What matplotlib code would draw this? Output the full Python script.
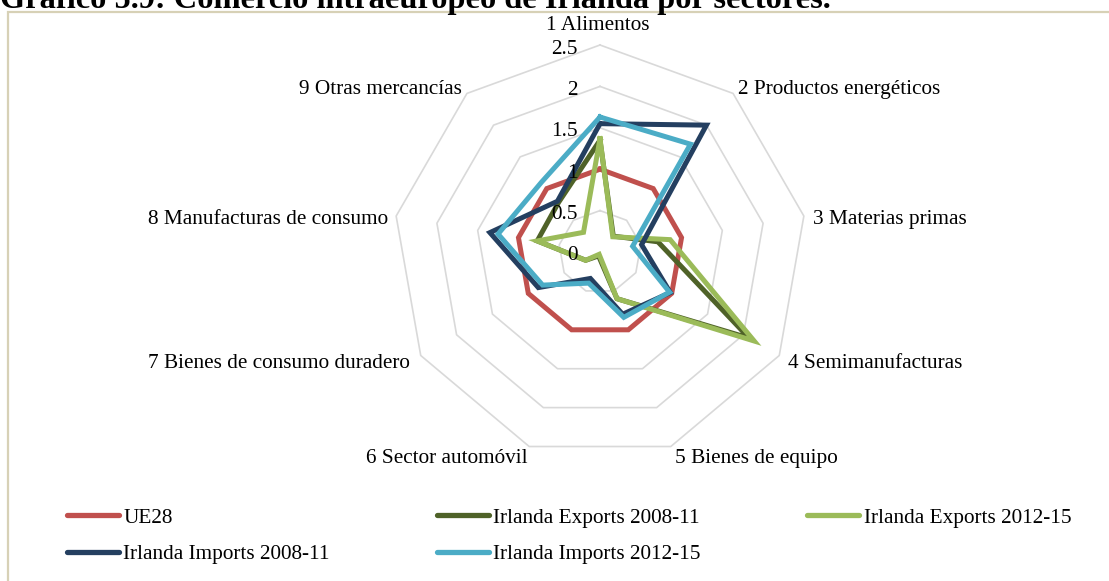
import numpy as np
import matplotlib
matplotlib.use("Agg")
import matplotlib.pyplot as plt
from matplotlib.lines import Line2D
from matplotlib.patches import Rectangle

categories = ["1 Alimentos", "2 Productos energéticos", "3 Materias primas",
              "4 Semimanufacturas", "5 Bienes de equipo", "6 Sector automóvil",
              "7 Bienes de consumo duradero", "8 Manufacturas de consumo",
              "9 Otras mercancías"]
ue28 = [1.0, 1.0, 1.0, 1.0, 1.0, 1.0, 1.0, 1.0, 1.0]
exp_0811 = [1.35, 0.25, 0.71, 2.08, 0.60, 0.05, 0.20, 0.77, 0.78]
exp_1215 = [1.37, 0.24, 0.86, 2.15, 0.60, 0.03, 0.20, 0.77, 0.31]
imp_0811 = [1.55, 2.00, 0.51, 0.98, 0.80, 0.34, 0.86, 1.35, 0.80]
imp_1215 = [1.63, 1.70, 0.40, 0.97, 0.84, 0.40, 0.80, 1.25, 1.10]
r_ticks = [0, 0.5, 1, 1.5, 2, 2.5]
r_tick_labels = ["0", "0.5", "1", "1.5", "2", "2.5"]
title = "Gráfico 5.9: Comercio intraeuropeo de Irlanda por sectores."

series = [
    ("UE28", ue28, "#C0504D"),
    ("Irlanda Exports 2008-11", exp_0811, "#4F6228"),
    ("Irlanda Exports 2012-15", exp_1215, "#9BBB59"),
    ("Irlanda Imports 2008-11", imp_0811, "#243F60"),
    ("Irlanda Imports 2012-15", imp_1215, "#4BACC6"),
]

plt.rcParams['font.family'] = ['Liberation Serif', 'DejaVu Serif']

W, H = 1109, 581
fig = plt.figure(figsize=(W / 100, H / 100), dpi=100)

# chart-area border (left & top visible)
fig.patches.append(Rectangle((8 / W, -0.1), 1.2, 1 - 12 / H + 0.1,
                             transform=fig.transFigure, fill=False,
                             edgecolor="#D7D1B6", linewidth=1.6))

cx, cy, R = 600, 252, 207
ax = fig.add_axes([(cx - R) / W, (H - cy - R) / H, 2 * R / W, 2 * R / H],
                  projection='polar')
ax.set_theta_zero_location('N')
ax.set_theta_direction(-1)
ax.set_ylim(0, 2.5)
ax.grid(False)
ax.spines['polar'].set_visible(False)
ax.set_xticks([])
ax.set_yticks([])
ax.patch.set_alpha(0)

n = len(categories)
theta = np.linspace(0, 2 * np.pi, n, endpoint=False)
theta_c = np.append(theta, theta[0])

for r in r_ticks[1:]:
    ax.plot(theta_c, [r] * (n + 1), color="#D9D9D9", lw=1.2, clip_on=False, zorder=1)

for name, vals, col in series:
    v = list(vals) + [vals[0]]
    ax.plot(theta_c, v, color=col, lw=3.6, solid_joinstyle='miter',
            clip_on=False, zorder=3, label=name)

fs = 15.3
for r, lab in zip(r_ticks, r_tick_labels):
    ax.annotate(lab, xy=(0, r), xytext=(-22, -4), textcoords='offset pixels',
                ha='right', va='center', fontsize=fs, zorder=5)

offs = [(-2, 20, 'center'), (5, 4, 'left'), (9, -3, 'left'), (9, -8, 'left'),
        (4, -12, 'left'), (-2, -12, 'right'), (-11, -8, 'right'),
        (-8, -3, 'right'), (-5, 4, 'right')]
for t, lab, (dx, dy, ha) in zip(theta, categories, offs):
    ax.annotate(lab, xy=(t, 2.5), xytext=(dx, dy), textcoords='offset pixels',
                ha=ha, va='center', fontsize=fs, annotation_clip=False)

fig.text(0, 1 - 8 / H, title, ha='left', va='baseline', fontsize=23.3,
         fontweight='bold')

handles = {name: Line2D([], [], color=col, lw=3.8, solid_capstyle='round')
           for name, vals, col in series}
order = ["UE28", "Irlanda Imports 2008-11", "Irlanda Exports 2008-11",
         "Irlanda Imports 2012-15", "Irlanda Exports 2012-15"]
fig.legend([handles[k] for k in order], order, ncol=3, frameon=False,
           loc='upper left', bbox_to_anchor=(67 / W, 1 - 508 / H),
           fontsize=fs, handlelength=2.45, handletextpad=0.2,
           columnspacing=5.03, labelspacing=0.78, borderpad=0, borderaxespad=0)

fig.savefig("out.png", dpi=100)
